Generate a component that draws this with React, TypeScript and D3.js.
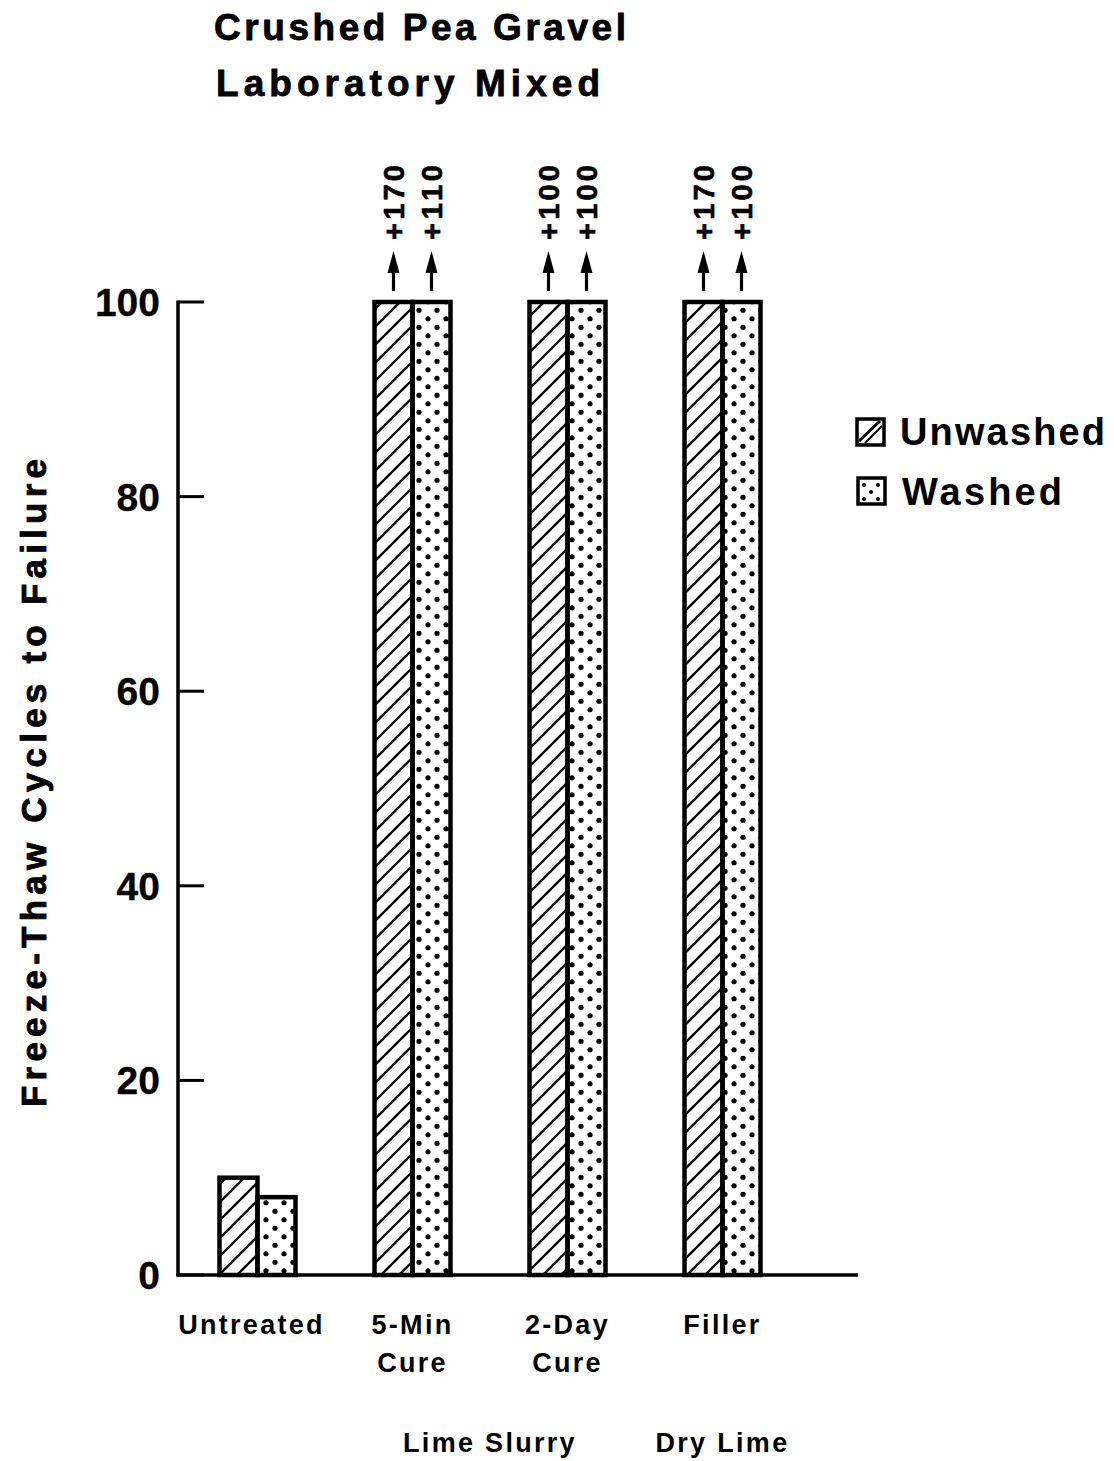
import React from "react";
import * as d3 from "d3";

const categories = ["Untreated", "5-Min Cure", "2-Day Cure", "Filler"];
const categoryLines = [["Untreated"], ["5-Min", "Cure"], ["2-Day", "Cure"], ["Filler"]];
const unwashed = [10, 100, 100, 100];
const washed = [8, 100, 100, 100];
const unwashedNote = ["", "+170", "+100", "+170"];
const washedNote = ["", "+110", "+100", "+100"];
const groupLabels = ["Lime Slurry", "Dry Lime"];
const groupMembers = [["5-Min Cure", "2-Day Cure"], ["Filler"]];
const yTicks = [0, 20, 40, 60, 80, 100];
const seriesNames = ["Unwashed", "Washed"];
const titleLines = ["Crushed Pea Gravel", "Laboratory Mixed"];
const yLabel = "Freeze-Thaw Cycles to Failure";

const FONT = "'Liberation Sans', Arial, Helvetica, sans-serif";

export default function App() {
  const W = 1114, H = 1461;
  const axisX = 178;
  const axisEndX = 858;
  const y = d3.scaleLinear().domain([0, 100]).range([1275, 302]);
  const x = d3.scaleBand().domain(categories).range([180, 800]).padding(0);
  const barW = 38;
  const center = (c: string) => (x(c) as number) + x.bandwidth() / 2;

  const arrow = (cx: number, key: string) => {
    const top = 251;
    const headBot = 273;
    const bottom = 291;
    return (
      <g key={key}>
        <line x1={cx} x2={cx} y1={bottom} y2={headBot - 2} stroke="#000" strokeWidth={3.2} />
        <path d={`M${cx},${top} L${cx - 6},${headBot} L${cx + 6},${headBot} Z`} fill="#000" />
      </g>
    );
  };

  const note = (cx: number, txt: string, key: string) => (
    <text
      key={key}
      transform={`translate(${cx + 10.5},240) rotate(-90)`}
      fontFamily={FONT}
      fontWeight="bold"
      fontSize={29}
      textLength={75}
      lengthAdjust="spacing"
      stroke="#000"
      strokeWidth={0.6}
    >
      {txt}
    </text>
  );

  const heavy = { stroke: "#000", strokeWidth: 0.8 } as const;

  return (
    <svg width={W} height={H} style={{ position: "absolute", left: 0, top: 0 }} xmlns="http://www.w3.org/2000/svg">
      <defs>
        <pattern id="hatch" patternUnits="userSpaceOnUse" width={18} height={18}>
          <path d="M-2,2 L2,-2 M0,18 L18,0 M16,20 L20,16" stroke="#000" strokeWidth={2.4} />
        </pattern>
        <pattern id="dots" patternUnits="userSpaceOnUse" width={18} height={17} x={0} y={0}>
          <circle cx={5} cy={4.25} r={2.6} fill="#000" />
          <circle cx={14} cy={12.75} r={2.6} fill="#000" />
        </pattern>
      </defs>
      <rect width={W} height={H} fill="#fff" />

      {/* Title */}
      <text x={214} y={40} fontFamily={FONT} fontWeight="bold" fontSize={37} textLength={412} lengthAdjust="spacing" {...heavy}>
        {titleLines[0]}
      </text>
      <text x={216} y={96} fontFamily={FONT} fontWeight="bold" fontSize={37} textLength={384} lengthAdjust="spacing" {...heavy}>
        {titleLines[1]}
      </text>

      {/* Y label */}
      <text
        transform={`translate(46,${1107}) rotate(-90)`}
        fontFamily={FONT}
        fontWeight="bold"
        fontSize={35}
        textLength={648}
        lengthAdjust="spacing"
        {...heavy}
      >
        {yLabel}
      </text>

      {/* Bars */}
      {categories.map((c, i) => {
        const cx = center(c);
        return (
          <g key={c}>
            <rect x={cx - barW} y={y(unwashed[i])} width={barW} height={y(0) - y(unwashed[i])} fill="url(#hatch)" stroke="#000" strokeWidth={4.5} />
            <rect x={cx} y={y(washed[i])} width={barW} height={y(0) - y(washed[i])} fill="url(#dots)" stroke="#000" strokeWidth={4.5} />
            {unwashedNote[i] && arrow(cx - barW / 2, c + "a1")}
            {washedNote[i] && arrow(cx + barW / 2, c + "a2")}
            {unwashedNote[i] && note(cx - barW / 2, unwashedNote[i], c + "n1")}
            {washedNote[i] && note(cx + barW / 2, washedNote[i], c + "n2")}
          </g>
        );
      })}

      {/* Axes */}
      <line x1={axisX} x2={axisX} y1={y(100) - 1.5} y2={y(0) + 1.5} stroke="#000" strokeWidth={3.5} />
      <line x1={axisX - 1.5} x2={axisEndX} y1={y(0)} y2={y(0)} stroke="#000" strokeWidth={3.5} />
      {yTicks.map((t) => (
        <g key={t}>
          <line x1={axisX} x2={axisX + 26} y1={y(t)} y2={y(t)} stroke="#000" strokeWidth={3} />
          <text x={160} y={y(t) + 14} textAnchor="end" fontFamily={FONT} fontSize={39} fontWeight="bold" stroke="#000" strokeWidth={0.3}>
            {t}
          </text>
        </g>
      ))}

      {/* Category labels */}
      {categories.map((c, i) =>
        categoryLines[i].map((ln, j) => (
          <text
            key={c + j}
            x={center(c) + (i === 0 ? -6 : 0)}
            y={1334 + j * 38}
            textAnchor="middle"
            fontFamily={FONT}
            fontWeight="bold"
            fontSize={27}
            letterSpacing={2.3}
          >
            {ln}
          </text>
        ))
      )}
      {groupLabels.map((g, i) => {
        const cs = groupMembers[i].map(center);
        const gx = (d3.min(cs)! + d3.max(cs)!) / 2;
        return (
          <text key={g} x={gx} y={1452} textAnchor="middle" fontFamily={FONT} fontWeight="bold" fontSize={27} letterSpacing={2.3}>
            {g}
          </text>
        );
      })}

      {/* Legend */}
      <g>
        <rect x={857} y={419} width={27} height={26} fill="#fff" stroke="#000" strokeWidth={3.5} />
        <line x1={859} y1={441} x2={880} y2={421} stroke="#000" strokeWidth={3} />
        <line x1={865} y1={443} x2={882} y2={426} stroke="#000" strokeWidth={2} />
        <text x={900} y={445} fontFamily={FONT} fontWeight="bold" fontSize={38} textLength={205} lengthAdjust="spacing">
          {seriesNames[0]}
        </text>
        <rect x={858} y={478} width={27} height={26} fill="#fff" stroke="#000" strokeWidth={3.5} />
        {[[864, 485], [878, 485], [871, 492], [864, 499], [878, 499]].map(([cx, cy], k) => (
          <circle key={k} cx={cx} cy={cy} r={2} fill="#000" />
        ))}
        <text x={902} y={505} fontFamily={FONT} fontWeight="bold" fontSize={38} textLength={160} lengthAdjust="spacing">
          {seriesNames[1]}
        </text>
      </g>
    </svg>
  );
}
